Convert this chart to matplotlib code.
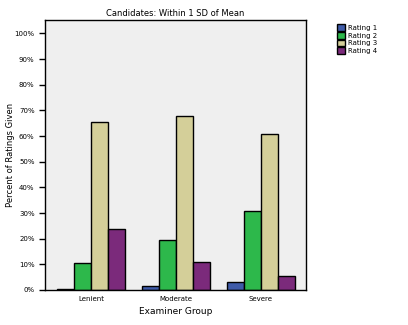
import numpy as np
import matplotlib.pyplot as plt
from matplotlib.ticker import PercentFormatter

groups = ['Lenient', 'Moderate', 'Severe']
ratings = ['Rating 1', 'Rating 2', 'Rating 3', 'Rating 4']
rating1 = [0.3, 1.5, 3.0]
rating2 = [10.5, 19.5, 30.8]
rating3 = [65.3, 67.7, 60.7]
rating4 = [23.8, 11.0, 5.4]
colors = ['#3F5BA9', '#2DB84B', '#D4CF99', '#7B2A7B']

fig = plt.figure(figsize=(4.08, 3.25), dpi=100)
ax = fig.add_axes([45 / 408, 35 / 325, 261 / 408, 270 / 325])
ax.set_facecolor('#EFEFEF')

x = np.arange(len(groups))
w = 0.2
series = [rating1, rating2, rating3, rating4]
for i, vals in enumerate(series):
    ax.bar(x + (i - 1.5) * w, vals, w, color=colors[i], edgecolor='black',
           linewidth=1, label=ratings[i])

ax.set_xlim(-0.54, 2.53)
ax.set_ylim(0, 105.2)
ax.set_yticks(np.arange(0, 101, 10))
ax.yaxis.set_major_formatter(PercentFormatter(decimals=0))
ax.set_xticks(x)
ax.set_xticklabels(groups)
ax.tick_params(axis='y', labelsize=5, length=4, width=1)
ax.tick_params(axis='x', labelsize=5, length=0, pad=4)
for s in ax.spines.values():
    s.set_linewidth(1)

ax.set_title('Candidates: Within 1 SD of Mean', fontsize=6, pad=3)
ax.set_ylabel('Percent of Ratings Given', fontsize=6)
ax.yaxis.set_label_coords(-0.115, 0.5)
ax.set_xlabel('Examiner Group', fontsize=6.5, labelpad=4)

fig.legend(loc='upper left', bbox_to_anchor=(331 / 408, 1 - 18 / 325),
           fontsize=5, frameon=False, handlelength=1.1, handleheight=1.1,
           handletextpad=0.4, labelspacing=0.15)

fig.savefig('out.png', dpi=100)
